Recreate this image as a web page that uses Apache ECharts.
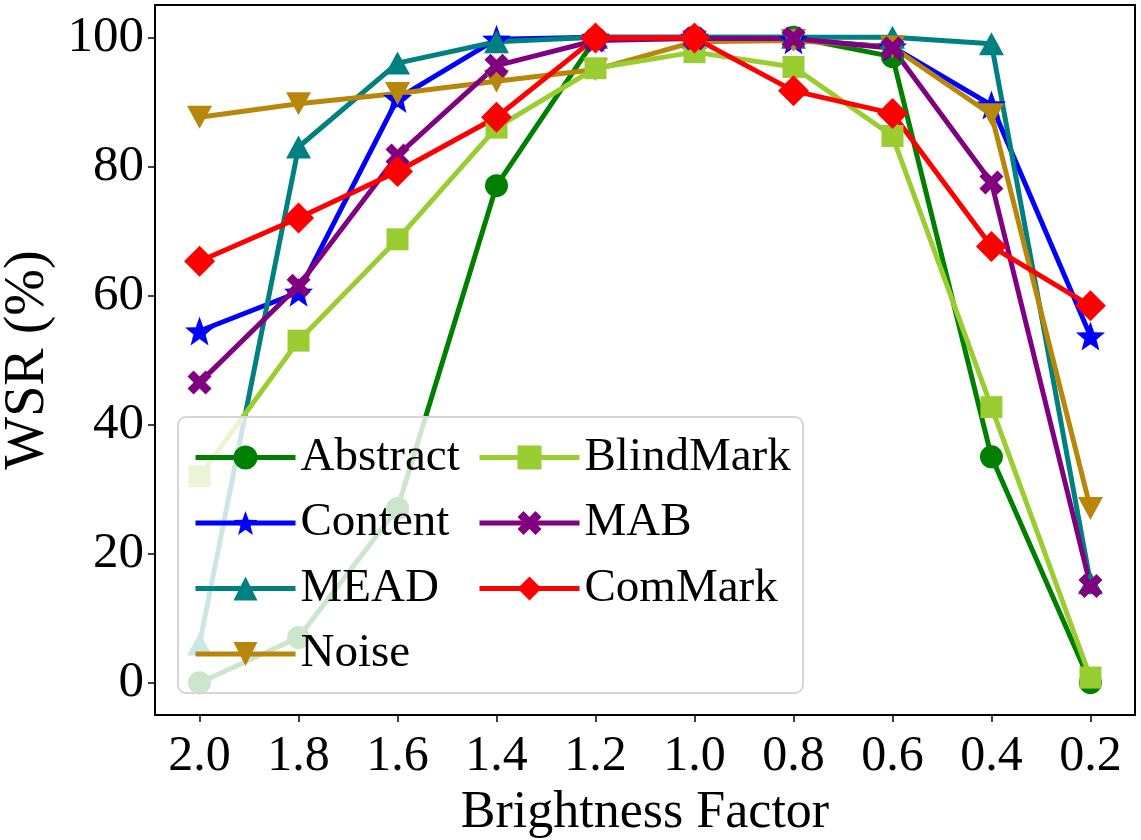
<!DOCTYPE html>
<html>
<head>
<meta charset="utf-8">
<script src="https://cdn.jsdelivr.net/npm/echarts@6/dist/echarts.min.js"></script>
<style>
html,body{margin:0;padding:0;background:#fff;}
#chart{width:1141px;height:840px;}
</style>
</head>
<body>
<div id="chart"></div>
<script>
const categories = ['2.0','1.8','1.6','1.4','1.2','1.0','0.8','0.6','0.4','0.2'];
const yTicks = [0, 20, 40, 60, 80, 100];
const abstractVals  = [0, 7, 27, 77, 99.8, 100, 100, 97, 35, 0];
const contentVals   = [54.5, 60.5, 90.5, 99.7, 100, 100, 99.6, 98.5, 89.5, 53.7];
const meadVals      = [6, 83, 96, 99.3, 100, 100, 100, 100, 99, 15.5];
const noiseVals     = [87.6, 89.7, 91.3, 93.2, 95, 99.3, 99.5, 98.5, 88, 27];
const blindmarkVals = [32, 53, 68.7, 86, 95.2, 97.7, 95.4, 84.7, 42.7, 0.8];
const mabVals       = [46.5, 61.5, 81.7, 95.6, 99.5, 99.8, 99.8, 98.3, 77.5, 15];
const commarkVals   = [65.3, 72, 79.2, 87.6, 99.9, 99.9, 91.7, 88.2, 67.6, 58.4];

const FONT = 'Liberation Serif';
const STAR = 'path://M50,0 L63,35 L100,36 L71,59 L81,95 L50,74 L19,95 L29,59 L0,36 L37,35 Z';
const TRI_DOWN = 'path://M0,0 L10,0 L5,9 Z';
const TRI_UP = 'path://M5,0 L10,9 L0,9 Z';
const XMARK = 'path://M0,2.5 L2.5,0 L5,2.5 L7.5,0 L10,2.5 L7.5,5 L10,7.5 L7.5,10 L5,7.5 L2.5,10 L0,7.5 L2.5,5 Z';

function mk(name, vals, color, symbol, size) {
  return {
    name: name,
    type: 'line',
    data: vals.map((v, i) => [i, v]),
    symbol: symbol,
    symbolSize: size,
    showAllSymbol: true,
    lineStyle: { color: color, width: 5 },
    itemStyle: { color: color, borderWidth: 0 },
    emphasis: { disabled: true },
    animation: false,
    z: 2
  };
}

const series = [
  mk('Abstract', abstractVals, '#008000', 'circle', 23),
  mk('Content', contentVals, '#0000ff', STAR, 29),
  mk('MEAD', meadVals, '#008080', TRI_UP, [25, 23]),
  mk('Noise', noiseVals, '#b8860b', TRI_DOWN, [25, 23]),
  mk('BlindMark', blindmarkVals, '#9acd32', 'rect', 22),
  mk('MAB', mabVals, '#800080', XMARK, 24),
  mk('ComMark', commarkVals, '#ff0000', 'diamond', 31)
];

const legendText = { fontFamily: FONT, fontSize: 47, color: '#000' };

const option = {
  backgroundColor: '#fff',
  animation: false,
  grid: { left: 155, right: 6, top: 5, bottom: 125, show: true, borderColor: '#000', borderWidth: 2, backgroundColor: 'transparent', outerBoundsMode: 'none', containLabel: false },
  xAxis: {
    type: 'value', min: -0.45, max: 9.45,
    name: 'Brightness Factor', nameLocation: 'middle', nameGap: 70,
    nameTextStyle: { fontFamily: FONT, fontSize: 52, color: '#000' },
    axisLine: { show: false, onZero: false },
    splitLine: { show: false },
    axisTick: { show: true, inside: false, length: 7, lineStyle: { color: '#000', width: 1.5 }, customValues: categories.map((c, i) => i) },
    axisLabel: { fontFamily: FONT, fontSize: 50, color: '#000', margin: 17,
      customValues: categories.map((c, i) => i),
      formatter: v => categories[Math.round(v)] }
  },
  yAxis: {
    type: 'value', min: -5, max: 105,
    name: 'WSR (%)', nameLocation: 'middle', nameGap: 92,
    nameTextStyle: { fontFamily: FONT, fontSize: 56, color: '#000' },
    axisLine: { show: false, onZero: false },
    splitLine: { show: false },
    axisTick: { show: true, inside: false, length: 7, lineStyle: { color: '#000', width: 1.5 }, customValues: yTicks },
    axisLabel: { fontFamily: FONT, fontSize: 51, color: '#000', margin: 11, customValues: yTicks }
  },
  graphic: {
    elements: [{
      type: 'rect', z: 3, silent: true,
      shape: { x: 178, y: 417, width: 625, height: 276, r: 8 },
      style: { fill: 'rgba(255,255,255,0.8)', stroke: '#d6d6d6', lineWidth: 2 }
    }]
  },
  legend: [
    {
      left: 193, top: 434, padding: 0, orient: 'vertical', itemWidth: 100, itemHeight: 30, itemGap: 18.5,
      lineStyle: { width: 5 },
      data: ['Abstract', 'Content', 'MEAD', 'Noise'], textStyle: legendText, selectedMode: false, z: 5
    },
    {
      left: 477, top: 434, padding: 0, orient: 'vertical', itemWidth: 100, itemHeight: 30, itemGap: 18.5,
      lineStyle: { width: 5 },
      data: ['BlindMark', 'MAB', 'ComMark'], textStyle: legendText, selectedMode: false, z: 5
    }
  ],
  series: series
};

const chart = echarts.init(document.getElementById('chart'), null, { renderer: 'canvas' });
chart.setOption(option);
</script>
</body>
</html>
